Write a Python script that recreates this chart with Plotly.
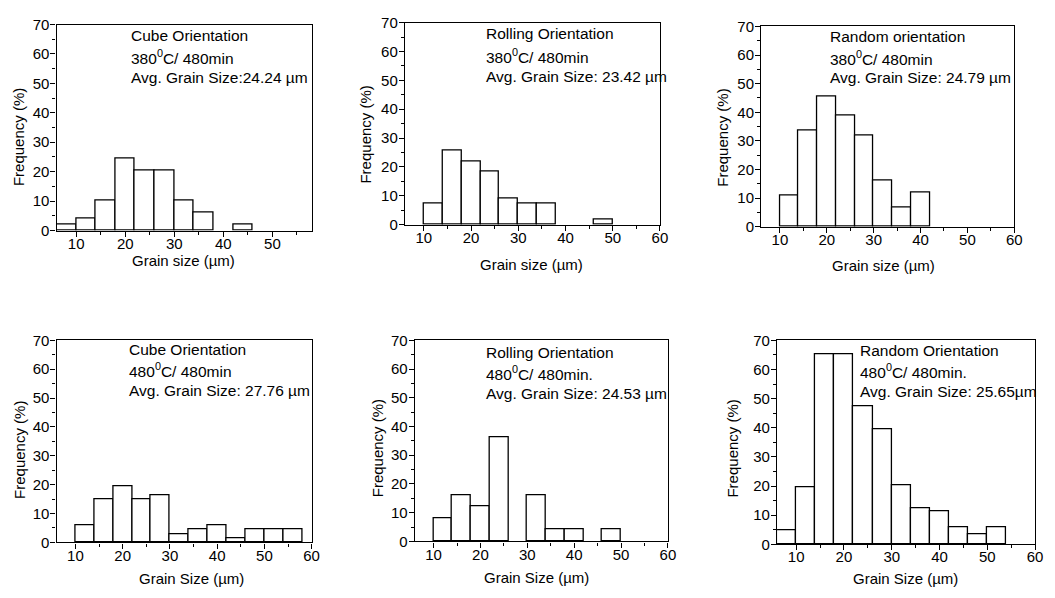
import plotly.graph_objects as go

W, H = 1055, 598

# ---- data ----
bin_centers = [8, 12, 16, 20, 24, 28, 32, 36, 40, 44, 48, 52, 56]
bin_width = 4

cube_380 = [2.2, 4.2, 10.3, 24.6, 20.3, 20.3, 10.3, 6.2, 0, 2.1, 0, 0, 0]
rolling_380 = [0, 7.4, 25.6, 21.9, 18.3, 9.1, 7.3, 7.3, 0, 0, 1.9, 0, 0]
random_380 = [0, 11.0, 33.5, 45.6, 38.7, 32.0, 16.3, 6.7, 11.9, 0, 0, 0, 0]
cube_480 = [0, 5.9, 14.9, 19.4, 14.9, 16.3, 2.9, 4.4, 5.9, 1.4, 4.4, 4.4, 4.4]
rolling_480 = [0, 8.1, 16.2, 12.1, 36.1, 0, 16.2, 4.1, 4.1, 0, 4.1, 0, 0]
random_480 = [4.7, 19.6, 65.2, 65.2, 47.2, 39.3, 20.1, 12.5, 11.2, 5.7, 3.3, 5.7, 0]

panel_series = [cube_380, rolling_380, random_380, cube_480, rolling_480, random_480]
panel_xrange = [[6, 58], [6, 60], [6, 60], [6, 60], [6, 60], [6, 60]]
y_range = [0, 70]

panel_text = [
    ["Cube Orientation", "380<sup>0</sup>C/ 480min", "Avg. Grain Size:24.24 \u00b5m"],
    ["Rolling Orientation", "380<sup>0</sup>C/ 480min", "Avg. Grain Size: 23.42 \u00b5m"],
    ["Random orientation", "380<sup>0</sup>C/ 480min", "Avg. Grain Size: 24.79 \u00b5m"],
    ["Cube Orientation", "480<sup>0</sup>C/ 480min", "Avg. Grain Size: 27.76 \u00b5m"],
    ["Rolling Orientation", "480<sup>0</sup>C/ 480min.", "Avg. Grain Size: 24.53 \u00b5m"],
    ["Random Orientation", "480<sup>0</sup>C/ 480min.", "Avg. Grain Size: 25.65\u00b5m"],
]
x_titles = ["Grain size (\u00b5m)"] * 3 + ["Grain Size (\u00b5m)"] * 3
y_title = "Frequency (%)"

# ---- layout geometry (pixels) ----
boxes = [  # left, right, top, bottom
    (57, 314, 16, 228),
    (408, 665, 14, 222),
    (767, 1022, 18, 224),
    (57, 314, 341, 549),
    (418, 673, 341, 548),
    (783, 1043, 341, 551),
]
text_pos = [  # left x, line center ys
    (130, [27, 49.5, 71]),
    (487.5, [25.5, 48, 69]),
    (834, [28.5, 50.5, 71]),
    (127.5, [350.5, 372, 393]),
    (487.5, [353.5, 375, 396]),
    (865, [351, 373, 394]),
]
ytitle_pos = [(18, 132), (368, 129), (728, 132), (19, 454), (380, 452), (738, 452)]
xtitle_pos = [(185, 259), (536, 263), (890, 263.5), (193, 586), (541, 585), (912, 586.5)]

FONT = "Liberation Sans, Arial, sans-serif"


def fx(x):
    return x / W


def fy(y):
    return 1 - y / H


fig = go.Figure()
annotations = []
for i in range(6):
    n = i + 1
    xa = "x" if n == 1 else f"x{n}"
    ya = "y" if n == 1 else f"y{n}"
    heights = [v if v > 0 else None for v in panel_series[i]]
    fig.add_trace(go.Bar(
        x=bin_centers, y=heights, width=bin_width,
        marker=dict(color="white", line=dict(color="black", width=1.3)),
        xaxis=xa, yaxis=ya, showlegend=False, hoverinfo="skip",
    ))
    l, r, t, b = boxes[i]
    axis_common = dict(
        showline=True, linecolor="black", linewidth=1.3, mirror=True,
        showgrid=False, zeroline=False,
        ticks="outside", ticklen=5, tickwidth=1.2, tickcolor="black",
        tickfont=dict(family=FONT, size=15, color="black"),
        minor=dict(ticks="outside", ticklen=3, tickwidth=1.1, tickcolor="black", dtick=5),
    )
    fig.layout[f"xaxis{'' if n == 1 else n}"] = dict(
        axis_common, domain=[fx(l), fx(r)], range=panel_xrange[i], dtick=10, tick0=0,
        anchor=ya, ticklabelstandoff=-6,
    )
    fig.layout[f"yaxis{'' if n == 1 else n}"] = dict(
        axis_common, domain=[fy(b), fy(t)], range=y_range, dtick=10, tick0=0,
        anchor=xa, ticklabelstandoff=-2,
    )
    tx, tys = text_pos[i]
    for line, ty in zip(panel_text[i], tys):
        annotations.append(dict(
            text=line, x=fx(tx), y=fy(ty), xref="paper", yref="paper",
            xanchor="left", yanchor="middle", showarrow=False,
            font=dict(family=FONT, size=15.5, color="black"),
        ))
    yx, yy = ytitle_pos[i]
    annotations.append(dict(
        text=y_title, x=fx(yx), y=fy(yy), xref="paper", yref="paper",
        xanchor="center", yanchor="middle", showarrow=False, textangle=-90,
        font=dict(family=FONT, size=15, color="black"),
    ))
    xx, xy = xtitle_pos[i]
    annotations.append(dict(
        text=x_titles[i], x=fx(xx), y=fy(xy), xref="paper", yref="paper",
        xanchor="center", yanchor="middle", showarrow=False,
        font=dict(family=FONT, size=15, color="black"),
    ))

fig.update_layout(
    width=W, height=H, margin=dict(l=0, r=0, t=0, b=0),
    paper_bgcolor="white", plot_bgcolor="white",
    annotations=annotations, bargap=0,
    font=dict(family=FONT, color="black"),
)

fig.write_html("out.html")
